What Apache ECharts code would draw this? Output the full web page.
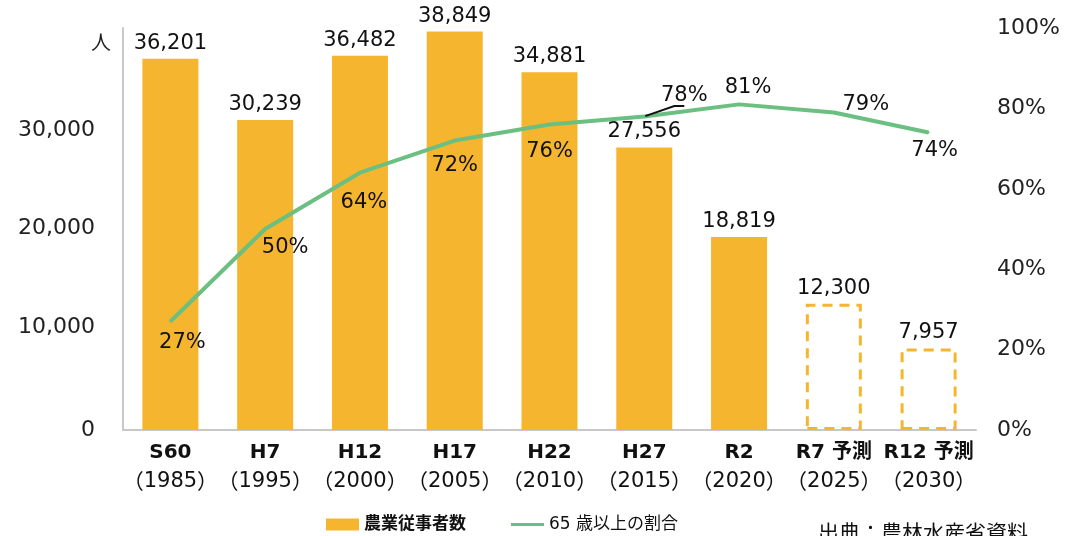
<!DOCTYPE html>
<html>
<head>
<meta charset="utf-8">
<script src="https://cdn.jsdelivr.net/npm/echarts@6/dist/echarts.min.js"></script>
<style>
  html, body { margin: 0; padding: 0; background: #fff; }
  #chart { width: 1067px; height: 536px; }
</style>
</head>
<body>
<div id="chart"></div>
<script>
// 年次ラベル
const eras = ['S60', 'H7', 'H12', 'H17', 'H22', 'H27', 'R2', 'R7 予測', 'R12 予測']
const years = ['1985', '1995', '2000', '2005', '2010', '2015', '2020', '2025', '2030']
// 農業従事者数（人）
const workers = [36201, 30239, 36482, 38849, 34881, 27556, 18819, 12300, 7957]
// 予測値かどうか
const isForecast = [false, false, false, false, false, false, false, true, true]
// 65歳以上の割合（%）
const elderRate = [27, 50, 64, 72, 76, 78, 81, 79, 74]

const barColor = '#F6B52E'
const lineColor = '#6BBF81'
const fontFamily = '"DejaVu Sans", "Noto Sans CJK JP", sans-serif'
const cjkFont = '"Noto Sans CJK JP", sans-serif'

// ラベル位置（点からのずれ）
const rateLabelOffsets = [[12, 21], [20, 19], [4, 30], [0, 25], [0, 27], [40, -21], [9, -17], [32, -8], [6, 18]]
// 左軸ラベルの微調整
const leftLabelPad = { 30000: 16, 20000: 6 }

const chart = echarts.init(document.getElementById('chart'))

chart.setOption({
  animation: false,
  textStyle: { fontFamily },
  grid: {
    left: 123,
    right: 91,
    top: 28,
    bottom: 106,
    containLabel: false
  },
  legend: {
    left: 321,
    top: 511,
    itemWidth: 33,
    itemHeight: 12,
    itemGap: 45,
    textStyle: { fontSize: 17, color: '#111', fontFamily },
    data: [
      { name: '農業従事者数', icon: 'rect', textStyle: { fontWeight: 'bold' } },
      { name: '65 歳以上の割合', icon: 'path://M0,0 L33,0 L33,3 L0,3 Z', itemStyle: { color: lineColor } }
    ]
  },
  xAxis: [{
    type: 'category',
    data: eras.map((e, i) => e + '\n' + years[i]),
    axisTick: { show: false },
    axisLine: { lineStyle: { color: '#c8c8c8', width: 2 } },
    axisLabel: {
      interval: 0,
      margin: 8,
      formatter: v => {
        const parts = v.split('\n')
        return '{a|' + parts[0] + '}\n{p|（}{b|' + parts[1] + '}{p|）}'
      },
      rich: {
        a: { fontSize: 20, fontWeight: 'bold', color: '#111', lineHeight: 29, fontFamily },
        b: { fontSize: 21, color: '#111', lineHeight: 29, fontFamily },
        p: { fontSize: 21, color: '#111', lineHeight: 29, fontFamily: cjkFont }
      }
    }
  }],
  yAxis: [{
    type: 'value',
    min: 0,
    max: 39200,
    interval: 10000,
    splitLine: { show: false },
    axisTick: { show: false },
    axisLine: { show: true, lineStyle: { color: '#c8c8c8', width: 2 } },
    axisLabel: {
      margin: 28,
      fontSize: 22,
      color: '#222',
      showMaxLabel: false,
      formatter: v => {
        if (v % 10000 !== 0) return ''
        const s = v.toLocaleString('en-US')
        return leftLabelPad[v] ? '{s' + v + '|' + s + '}' : s
      },
      rich: {
        s30000: { fontSize: 22, color: '#222', padding: [leftLabelPad[30000], 0, 0, 0] },
        s20000: { fontSize: 22, color: '#222', padding: [leftLabelPad[20000], 0, 0, 0] }
      }
    }
  }, {
    type: 'value',
    min: 0,
    max: 100,
    interval: 20,
    splitLine: { show: false },
    axisTick: { show: false },
    axisLine: { show: false },
    axisLabel: {
      margin: 21,
      fontSize: 22,
      color: '#222',
      formatter: '{value}%'
    }
  }],
  graphic: [
    {
      type: 'text',
      left: 91,
      top: 32,
      style: { text: '人', fontSize: 20, fill: '#222', fontFamily: cjkFont }
    },
    {
      type: 'text',
      left: 818,
      top: 522,
      style: { text: '出典：農林水産省資料', fontSize: 21, fill: '#111', fontFamily: cjkFont }
    }
  ],
  series: [{
    name: '農業従事者数',
    type: 'bar',
    barWidth: 56,
    itemStyle: { color: barColor },
    label: {
      show: true,
      position: 'top',
      distance: 5,
      fontSize: 21,
      color: '#111',
      formatter: p => p.value.toLocaleString('en-US')
    },
    data: workers.map((v, i) => isForecast[i]
      ? {
          value: v,
          itemStyle: {
            color: 'rgba(255,255,255,0)',
            borderColor: barColor,
            borderWidth: 3,
            borderType: [10, 7]
          }
        }
      : v)
  }, {
    name: '65 歳以上の割合',
    type: 'line',
    yAxisIndex: 1,
    symbol: 'circle',
    symbolSize: 2,
    showSymbol: true,
    lineStyle: { color: lineColor, width: 4 },
    itemStyle: { color: lineColor },
    label: {
      show: true,
      position: 'inside',
      fontSize: 21,
      color: '#111',
      formatter: '{c}%'
    },
    data: elderRate.map((v, i) => ({
      value: v,
      label: { offset: rateLabelOffsets[i] },
      labelLine: i === 5
        ? { show: true, length2: 10, lineStyle: { color: '#111', width: 2 } }
        : { show: false }
    }))
  }]
})
</script>
</body>
</html>
